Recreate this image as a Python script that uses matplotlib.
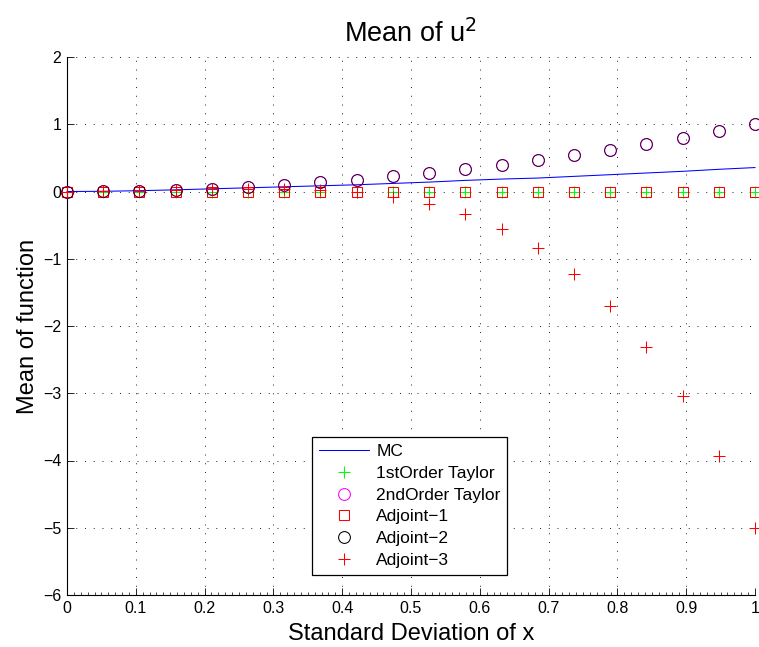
import numpy as np
import matplotlib
matplotlib.use("Agg")
import matplotlib.pyplot as plt
from matplotlib.ticker import MultipleLocator

plt.rcParams['font.family'] = ['Liberation Sans', 'DejaVu Sans']

# Standard deviation of x (20 samples from 0 to 1)
sigma = [0.0, 0.0526, 0.1053, 0.1579, 0.2105, 0.2632, 0.3158, 0.3684, 0.4211, 0.4737,
         0.5263, 0.5789, 0.6316, 0.6842, 0.7368, 0.7895, 0.8421, 0.8947, 0.9474, 1.0]

# Monte Carlo estimate of the mean
mc = [0.0, 0.003, 0.012, 0.025, 0.040, 0.055, 0.070, 0.085, 0.100, 0.120,
      0.140, 0.165, 0.185, 0.200, 0.225, 0.250, 0.275, 0.300, 0.330, 0.356]

# First-order Taylor and Adjoint-1 estimates
taylor1 = [0.0] * 20
adjoint1 = [0.0] * 20

# Second-order Taylor and Adjoint-2 estimates
taylor2 = [0.0, 0.0028, 0.0111, 0.0249, 0.0443, 0.0693, 0.0997, 0.1357, 0.1773, 0.2244,
           0.2770, 0.3352, 0.3989, 0.4681, 0.5429, 0.6233, 0.7091, 0.8006, 0.8975, 1.0]
adjoint2 = list(taylor2)

# Adjoint-3 estimate
adjoint3 = [0.0, 0.003, 0.010, 0.021, 0.033, 0.040, 0.040, 0.025, -0.011, -0.078,
            -0.183, -0.339, -0.556, -0.847, -1.226, -1.708, -2.308, -3.045, -3.936, -5.0]

fig = plt.figure(figsize=(7.59, 6.47), dpi=100)
ax = fig.add_axes([67 / 759, 52 / 647, 688 / 759, 538 / 647])

lw = 0.75
ax.plot(sigma, mc, color='#0000ff', lw=lw, label='MC', clip_on=False, zorder=3)
ax.plot(sigma, taylor1, ls='none', marker='+', ms=8, mew=lw, color='#00ff00',
        label='1stOrder Taylor', clip_on=False, zorder=3)
ax.plot(sigma, taylor2, ls='none', marker='o', ms=8.5, mew=lw, mfc='none', mec='#ff00ff',
        label='2ndOrder Taylor', clip_on=False, zorder=3)
ax.plot(sigma, adjoint1, ls='none', marker='s', ms=6.5, mew=lw, mfc='none', mec='#ff0000',
        label='Adjoint\u22121', clip_on=False, zorder=3)
ax.plot(sigma, adjoint2, ls='none', marker='o', ms=8.5, mew=lw, mfc='none',
        mec='black', alpha=0.75, label='Adjoint\u22122', clip_on=False, zorder=3)
ax.plot(sigma, adjoint3, ls='none', marker='+', ms=8, mew=lw, color='#ff0000',
        label='Adjoint\u22123', clip_on=False, zorder=3)

ax.set_xlim(0, 1)
ax.set_ylim(-6, 2)
xt = [0, 0.1, 0.2, 0.3, 0.4, 0.5, 0.6, 0.7, 0.8, 0.9, 1]
ax.set_xticks(xt)
ax.set_xticklabels(['0', '0.1', '0.2', '0.3', '0.4', '0.5', '0.6', '0.7', '0.8', '0.9', '1'])
ax.set_yticks(range(-6, 3))
ax.xaxis.set_minor_locator(MultipleLocator(0.01))
ax.tick_params(which='major', direction='in', length=5, width=0.6, labelsize=11.5, pad=4)
ax.tick_params(which='minor', axis='x', direction='in', length=2.5, width=0.5)
ax.tick_params(top=False, right=False)

for side in ('top', 'right'):
    ax.spines[side].set_visible(False)
for side in ('left', 'bottom'):
    ax.spines[side].set_linewidth(0.8)

ax.grid(True, which='major', ls=(0, (1, 8)), color='#202020', lw=0.7)
ax.set_axisbelow(True)

ax.set_title('Mean of u$^2$', fontsize=19.5, pad=11)
ax.set_xlabel('Standard Deviation of x', fontsize=17, labelpad=5)
ax.set_ylabel('Mean of function', fontsize=17, labelpad=3)

leg = ax.legend(loc='upper left', bbox_to_anchor=(0.356, 1 - (437 - 57) / 538), fontsize=12.5,
                frameon=True, fancybox=False, edgecolor='black', framealpha=1,
                borderpad=0.4, labelspacing=0.38, handlelength=2.9, handletextpad=0.4,
                borderaxespad=0)
leg.get_frame().set_linewidth(0.9)
for h in leg.legend_handles:
    h.set_alpha(1)

fig.savefig('out.png', dpi=100)
